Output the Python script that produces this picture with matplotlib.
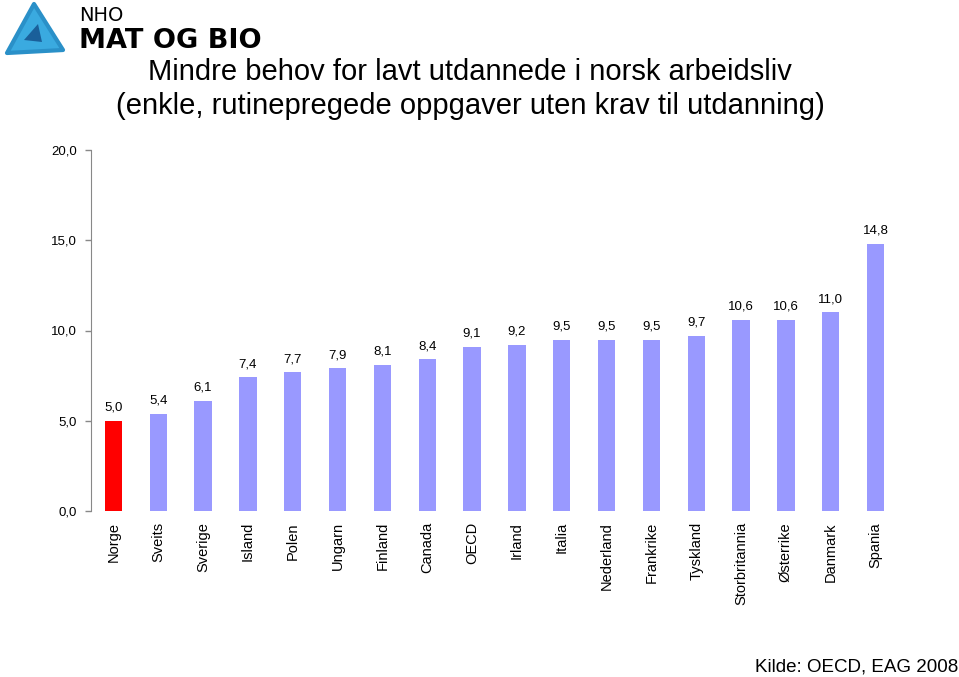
import matplotlib
matplotlib.use("Agg")
import matplotlib.pyplot as plt
from matplotlib.patches import Polygon

countries = ["Norge", "Sveits", "Sverige", "Island", "Polen", "Ungarn", "Finland",
             "Canada", "OECD", "Irland", "Italia", "Nederland", "Frankrike",
             "Tyskland", "Storbritannia", "Østerrike", "Danmark", "Spania"]
values = [5.0, 5.4, 6.1, 7.4, 7.7, 7.9, 8.1, 8.4, 9.1, 9.2, 9.5, 9.5, 9.5, 9.7,
          10.6, 10.6, 11.0, 14.8]
yticks = [0, 5, 10, 15, 20]

W, H = 959, 677
fig = plt.figure(figsize=(W / 100, H / 100), dpi=100)
plt.rcParams['font.family'] = ['Liberation Sans', 'DejaVu Sans']

n = len(countries)
ax = fig.add_axes([91 / W, 1 - 511 / H, (898 - 91) / W, (511 - 150) / H])
colors = ["#FF0000"] + ["#9999FF"] * (n - 1)
x = list(range(n))
ax.bar(x, values, width=0.39, color=colors)
ax.set_xlim(-0.5, n - 0.5)
ax.set_ylim(0, 20)
ax.set_yticks(yticks)
ax.set_yticklabels([f"{v:.1f}".replace(".", ",") for v in yticks], fontsize=9.5)
ax.set_xticks(x)
ax.set_xticklabels(countries, rotation=90, fontsize=10.5)
ax.tick_params(axis='x', length=0, pad=8)
ax.tick_params(axis='y', length=4, color="#888888", width=1, pad=6)
for s in ["top", "right", "bottom"]:
    ax.spines[s].set_visible(False)
ax.spines["left"].set_color("#888888")
for xi, v in zip(x, values):
    ax.annotate(f"{v:.1f}".replace(".", ","), (xi, v), xytext=(0, 5),
                textcoords="offset points", ha="center", va="bottom", fontsize=9.5)

fig.text(470 / W, 1 - 72 / H, "Mindre behov for lavt utdannede i norsk arbeidsliv",
         ha="center", va="center", fontsize=21)
fig.text(470 / W, 1 - 106 / H, "(enkle, rutinepregede oppgaver uten krav til utdanning)",
         ha="center", va="center", fontsize=21)

# logo
tri = Polygon([[7 / W, 1 - 53 / H], [34 / W, 1 - 4 / H], [63 / W, 1 - 50 / H]],
              closed=True, transform=fig.transFigure, facecolor="#3AAAE0",
              edgecolor="#2A90C8", linewidth=3, joinstyle="round")
fig.patches.append(tri)
tri2 = Polygon([[24 / W, 1 - 40 / H], [38 / W, 1 - 24 / H], [42 / W, 1 - 42 / H]],
               closed=True, transform=fig.transFigure, facecolor="#1A5F9A")
fig.patches.append(tri2)
fig.text(79 / W, 1 - 15.5 / H, "NHO", ha="left", va="center", fontsize=14,
         family="DejaVu Sans")
fig.text(79 / W, 1 - 41 / H, "MAT OG BIO", ha="left", va="center", fontsize=19.5,
         fontweight="bold", family="DejaVu Sans")

fig.text(958 / W, 1 - 667 / H, "Kilde: OECD, EAG 2008", ha="right", va="center",
         fontsize=13.5)

fig.savefig("out.png", dpi=100)
